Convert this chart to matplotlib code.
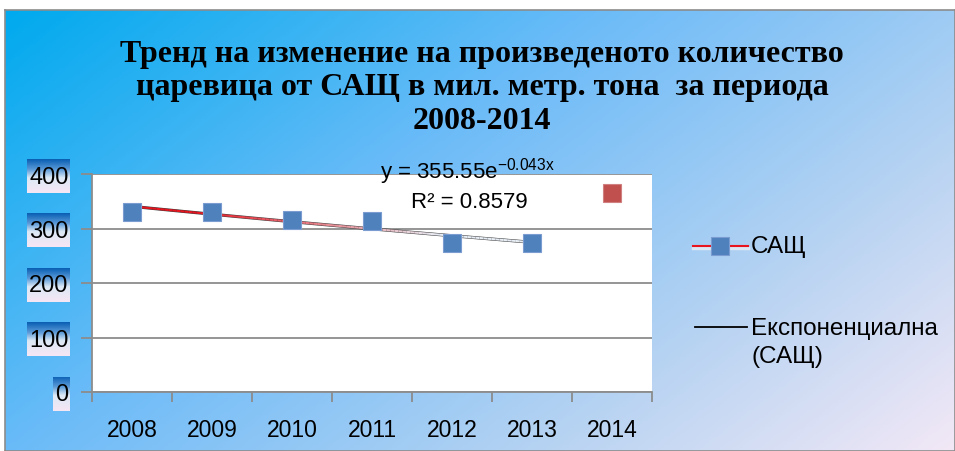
import numpy as np
import matplotlib
matplotlib.use("Agg")
import matplotlib.pyplot as plt
from matplotlib.colors import LinearSegmentedColormap, to_rgb
from matplotlib.collections import LineCollection
from matplotlib.lines import Line2D

plt.rcParams['font.family'] = ['Liberation Sans', 'DejaVu Sans']
plt.rcParams['mathtext.fontset'] = 'custom'
plt.rcParams['mathtext.rm'] = 'Liberation Sans'
plt.rcParams['mathtext.it'] = 'Liberation Sans'

# data
years = ['2008', '2009', '2010', '2011', '2012', '2013', '2014']
usa = [331, 330, 316, 314, 274, 274]          # blue points 2008-2013
usa_2014 = [366]                               # red point 2014
trend_a = 355.55
trend_b = -0.043
r2 = 0.8579
y_ticks = [0, 100, 200, 300, 400]

title = ("Тренд на изменение на произведеното количество\n"
         "царевица от САЩ в мил. метр. тона  за периода\n"
         "2008-2014")

W, H = 955, 452
fig = plt.figure(figsize=(W / 100, H / 100), dpi=100)

# background gradient panel
bg = fig.add_axes([5 / W, 0, (W - 5) / W, (H - 11) / H], zorder=-10)
nx, ny = 300, 150
gx, gy = np.meshgrid(np.linspace(0, 1, nx), np.linspace(0, 1, ny))
t = np.clip(0.62 * gx + 0.38 * gy, 0, 1)
bg_cmap = LinearSegmentedColormap.from_list(
    'bg', [(0, '#00aaee'), (0.4, '#6ebcf8'), (0.72, '#b4d2f2'), (1, '#f2e8f6')])
bg.imshow(t, cmap=bg_cmap, aspect='auto', extent=[0, 1, 0, 1], origin='upper')
bg.set_xlim(0, 1)
bg.set_ylim(0, 1)
bg.set_xticks([])
bg.set_yticks([])
for s in bg.spines.values():
    s.set_color('#8c8c8c')
    s.set_linewidth(1.2)

fig.text(482 / W, 1 - 88 / H, title, ha='center', va='center',
         fontsize=23, fontweight='bold', family='Liberation Serif', linespacing=1.2)

# plot area
ax = fig.add_axes([92 / W, 1 - 393 / H, 560 / W, 218 / H])
x = np.arange(len(years))
ax.set_xlim(-0.5, len(years) - 0.5)
ax.set_ylim(0, 400)
ax.set_yticks(y_ticks)
ax.set_yticklabels([str(v) for v in y_ticks], fontsize=17)
ax.yaxis.grid(True, color='#8c8c8c', linewidth=1.3)
ax.set_axisbelow(True)
ax.set_xticks(np.arange(len(years) + 1) - 0.5)
ax.set_xticklabels([])
ax.set_xticks(x, minor=True)
ax.set_xticklabels(years, minor=True, fontsize=16.5)
ax.tick_params(axis='x', which='major', length=7, color='#8c8c8c', width=1.3)
ax.tick_params(axis='x', which='minor', length=0, pad=19)
ax.tick_params(axis='y', length=8, color='#8c8c8c', width=1.3, pad=9)
for s in ['top', 'right']:
    ax.spines[s].set_visible(False)
for s in ['left', 'bottom']:
    ax.spines[s].set_color('#8c8c8c')
    ax.spines[s].set_linewidth(1.3)

# exponential trend line (red fading to light)
tx = np.linspace(0, len(usa) - 1, 100)
ty = trend_a * np.exp(trend_b * (tx + 1))
ax.plot(tx, ty, color='#3c3c3c', lw=2.2, zorder=3)
pts = np.column_stack([tx, ty]).reshape(-1, 1, 2)
segs = np.concatenate([pts[:-1], pts[1:]], axis=1)
c0, c1 = np.array(to_rgb('#e8141e')), np.array(to_rgb('#e8eef6'))
fr = np.linspace(0, 1, len(segs))[:, None]
fr = np.clip((fr - 0.15) * 1.6, 0, 1)
ax.add_collection(LineCollection(segs, colors=c0 * (1 - fr) + c1 * fr, lw=1.5, zorder=4))

ax.plot(x[:len(usa)], usa, ls='none', marker='s', ms=13.5, mfc='#4f81bd',
        mec='#7a9cd0', mew=0.8, zorder=5)
ax.plot(x[len(usa):], usa_2014, ls='none', marker='s', ms=13.5, mfc='#c0504d',
        mec='#d08080', mew=0.8, zorder=5)

# trend equation
fig.text(380 / W, 1 - 172 / H, r'y = 355.55e$^{-0.043x}$', fontsize=16,
         ha='left', va='center')
fig.text(469 / W, 1 - 203 / H, 'R² = %.4f' % r2, fontsize=16, ha='center', va='center')

# legend
fig.add_artist(Line2D([693 / W, 748 / W], [1 - 249 / H, 1 - 249 / H], color='#dde6f3', lw=2.5))
fig.add_artist(Line2D([693 / W, 748 / W], [1 - 247 / H, 1 - 247 / H], color='#e8141e', lw=1.5))
fig.add_artist(Line2D([720 / W], [1 - 247 / H], ls='none', marker='s', ms=13.5,
                      mfc='#4f81bd', mec='#7a9cd0', mew=0.8))
fig.text(751 / W, 1 - 247 / H, 'САЩ', fontsize=17.5, ha='left', va='center')
fig.add_artist(Line2D([695 / W, 747 / W], [1 - 328 / H, 1 - 328 / H], color='black', lw=1.3))
fig.text(751 / W, 1 - 343 / H, 'Експоненциална\n(САЩ)', fontsize=17.5, ha='left',
         va='center', linespacing=1.3)

# gradient boxes behind the y tick labels
fig.canvas.draw()
renderer = fig.canvas.get_renderer()
box_cmap = LinearSegmentedColormap.from_list(
    'box', [(0, '#f6e6f4'), (0.45, '#dce9f6'), (0.7, '#5a9ad8'), (1, '#0a5fb4')])
grad = np.linspace(0, 1, 50)[:, None]
for lab in ax.get_yticklabels():
    bb = lab.get_window_extent(renderer)
    cy = (bb.y0 + bb.y1) / 2
    bx = fig.add_axes([(bb.x0 - 2) / W, (cy - 16) / H, (bb.width + 3) / W, 34 / H], zorder=-5)
    bx.imshow(grad, cmap=box_cmap, aspect='auto', extent=[0, 1, 0, 1], origin='lower')
    bx.axis('off')

fig.savefig('out.png', dpi=100)
